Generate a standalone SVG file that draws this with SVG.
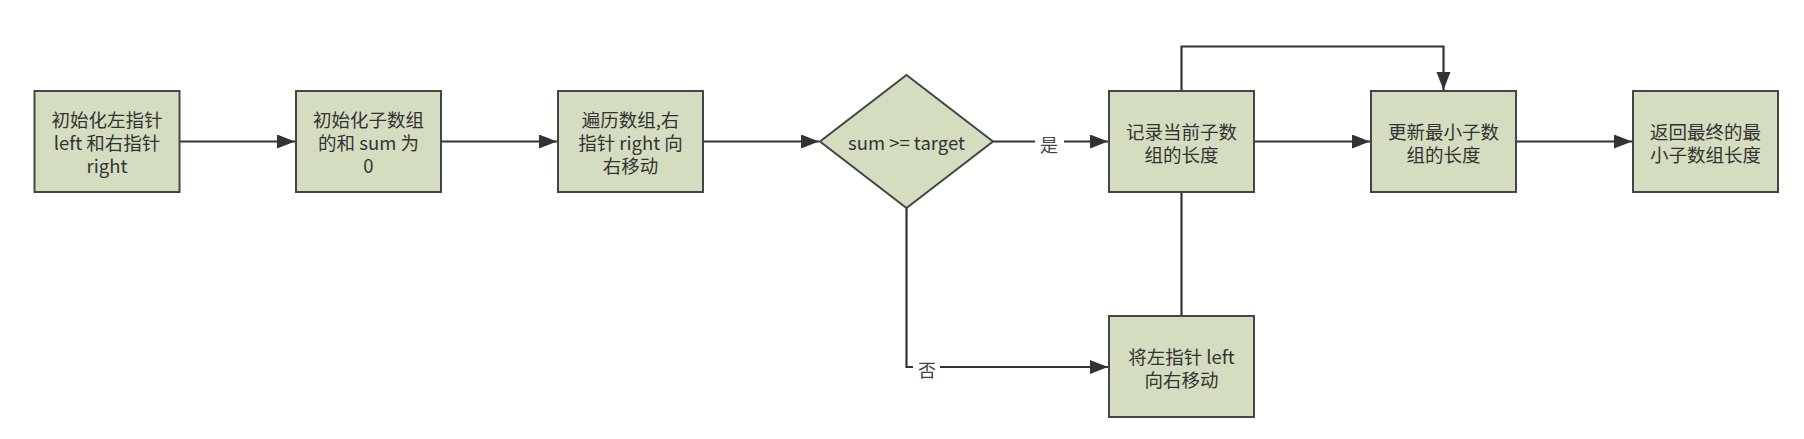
<svg xmlns="http://www.w3.org/2000/svg" width="1804" height="439" viewBox="0 0 1804 439">
<defs>
<style>
.n{fill:#d4ddbf;stroke:#454545;stroke-width:2}
.t{font-family:"Noto Sans CJK SC","Noto Sans",sans-serif;font-size:18.5px;fill:#333;text-anchor:middle;dominant-baseline:central}
.l{font-family:"Noto Sans CJK SC","Noto Sans",sans-serif;font-size:18px;fill:#444;text-anchor:middle;dominant-baseline:central}
.c{fill:none;stroke:#333;stroke-width:2.2}
</style>
<marker id="a" markerUnits="userSpaceOnUse" markerWidth="20" markerHeight="15" refX="18" refY="7" orient="auto">
<path d="M0,0 L18,7 L0,14 z" fill="#333"/>
</marker>
</defs>
<rect width="1804" height="439" fill="#fff"/>
<g id="connectors">
<path class="c" d="M179.5,141.5 H295" marker-end="url(#a)"/>
<path class="c" d="M441,141.5 H557" marker-end="url(#a)"/>
<path class="c" d="M703,141.5 H819" marker-end="url(#a)"/>
<path class="c" d="M993,141.5 H1035 M1064,141.5 H1108" marker-end="url(#a)"/>
<path class="c" d="M1254,141.5 H1370" marker-end="url(#a)"/>
<path class="c" d="M1516,141.5 H1632" marker-end="url(#a)"/>
<path class="c" d="M906.5,208 V367 H913 M940,367 H1108" marker-end="url(#a)"/>
<path class="c" d="M1181.5,316 V46.5 H1443.5 V90" marker-end="url(#a)"/>
<text class="l" x="1049" y="144">是</text>
<text class="l" x="927" y="369">否</text>
</g>
<g id="n1">
<rect class="n" x="34.5" y="91" width="145" height="101"/>
<text class="t" x="107" y="119">初始化左指针</text>
<text class="t" x="107" y="142">left 和右指针</text>
<text class="t" x="107" y="165">right</text>
</g>
<g id="n2">
<rect class="n" x="296" y="91" width="145" height="101"/>
<text class="t" x="368.5" y="119">初始化子数组</text>
<text class="t" x="368.5" y="142">的和 sum 为</text>
<text class="t" x="368.5" y="165">0</text>
</g>
<g id="n3">
<rect class="n" x="558" y="91" width="145" height="101"/>
<text class="t" x="630.5" y="119">遍历数组,右</text>
<text class="t" x="630.5" y="142">指针 right 向</text>
<text class="t" x="630.5" y="165">右移动</text>
</g>
<g id="n4">
<polygon class="n" points="906.5,75 993,141.5 906.5,208 820,141.5"/>
<text class="t" x="906.5" y="141.5">sum &gt;= target</text>
</g>
<g id="n5">
<rect class="n" x="1109" y="91" width="145" height="101"/>
<text class="t" x="1181.5" y="131">记录当前子数</text>
<text class="t" x="1181.5" y="154">组的长度</text>
</g>
<g id="n6">
<rect class="n" x="1371" y="91" width="145" height="101"/>
<text class="t" x="1443.5" y="131">更新最小子数</text>
<text class="t" x="1443.5" y="154">组的长度</text>
</g>
<g id="n7">
<rect class="n" x="1633" y="91" width="145" height="101"/>
<text class="t" x="1705.5" y="131">返回最终的最</text>
<text class="t" x="1705.5" y="154">小子数组长度</text>
</g>
<g id="n8">
<rect class="n" x="1109" y="316" width="145" height="101"/>
<text class="t" x="1181.5" y="356">将左指针 left</text>
<text class="t" x="1181.5" y="379">向右移动</text>
</g>
</svg>
